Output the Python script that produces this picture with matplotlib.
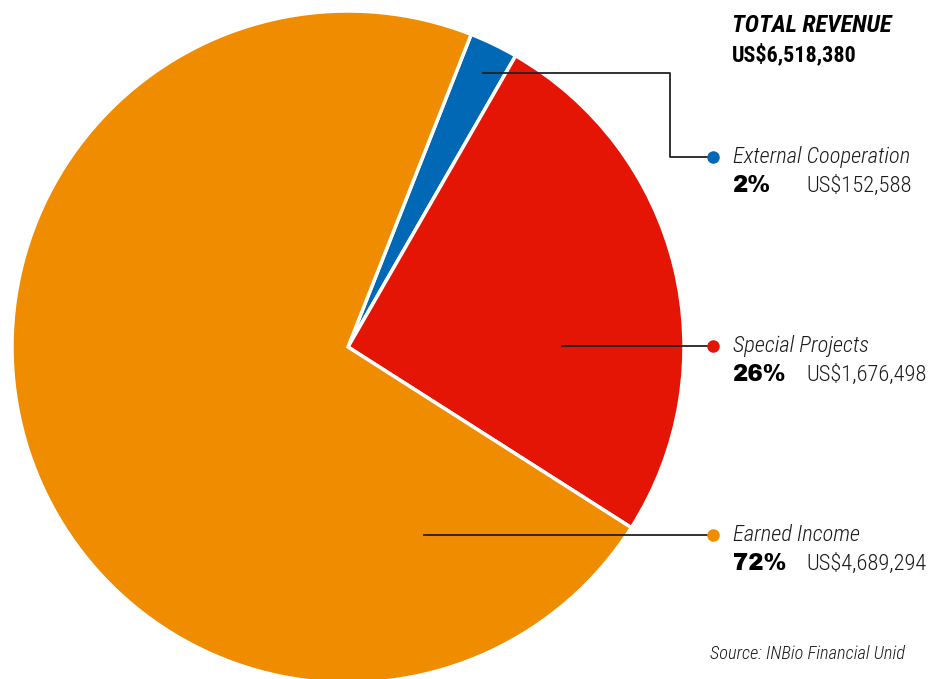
import matplotlib.pyplot as plt
from matplotlib import font_manager

# Data
labels = ['External Cooperation', 'Special Projects', 'Earned Income']
values = [152588, 1676498, 4689294]
percents = ['2%', '26%', '72%']
amounts = ['US$152,588', 'US$1,676,498', 'US$4,689,294']
colors = ['#0068b4', '#e41505', '#f08c00']
total_label = 'US$6,518,380'

# pick a condensed family if one is installed
names = {f.name for f in font_manager.fontManager.ttflist}
narrow, fs = 'Liberation Sans', 12.5
for cand in ['Roboto Condensed', 'Archivo Narrow', 'PT Sans Narrow',
             'Liberation Sans Narrow', 'Pragati Narrow', 'IBM Plex Sans Condensed',
             'Encode Sans Condensed', 'Open Sans Condensed']:
    if cand in names:
        narrow, fs = cand, 16.2
        break
heavy = 'Archivo Black' if 'Archivo Black' in names else 'DejaVu Sans'
scale = fs / 16.2

W, H = 934, 679
fig = plt.figure(figsize=(W / 100, H / 100), dpi=100)
ax = fig.add_axes([0, 0, 1, 1])

# pie in pixel coordinates (y measured from bottom)
cx, cy, r = 348, H - 347, 336
ax.pie(values, colors=colors, startangle=68.5, counterclock=False,
       center=(cx, cy), radius=r, frame=True,
       wedgeprops=dict(edgecolor='white', linewidth=2.5))
ax.set_xlim(0, W)
ax.set_ylim(0, H)
ax.set_aspect('equal')
ax.axis('off')

# leader lines
lc = '#222222'
ax.plot([483, 670, 670, 710], [H - 73, H - 73, H - 157, H - 157], color=lc, lw=1.3)
ax.plot([562, 710], [H - 346, H - 346], color=lc, lw=1.3)
ax.plot([424, 710], [H - 535, H - 535], color=lc, lw=1.3)

label_y = [157, 346, 535]
for lab, pct, amt, col, y in zip(labels, percents, amounts, colors, label_y):
    ax.plot(713, H - y, 'o', color=col, markersize=9, markeredgewidth=0)
    ax.text(733, H - y, lab, fontsize=fs, style='italic', family=narrow,
            fontweight='light', va='center', ha='left', color='#1a1a1a')
    ax.text(733, H - y - 29, pct, fontsize=16.5 * scale, fontweight='bold',
            family=heavy, va='center', ha='left', color='black')
    ax.text(806, H - y - 29, amt, fontsize=fs, family=narrow, fontweight='light',
            va='center', ha='left', color='#1a1a1a')

ax.text(732, H - 25, 'TOTAL REVENUE', fontsize=17.5 * scale, fontweight='bold',
        style='italic', family=narrow, va='center', ha='left', color='black')
ax.text(732, H - 55, total_label, fontsize=15.8 * scale, fontweight='bold',
        family=narrow, va='center', ha='left', color='black')

ax.text(905, H - 654, 'Source: INBio Financial Unid', fontsize=13.2 * scale,
        style='italic', family=narrow, fontweight='light',
        va='center', ha='right', color='#1a1a1a')

fig.savefig('out.png', dpi=100)
